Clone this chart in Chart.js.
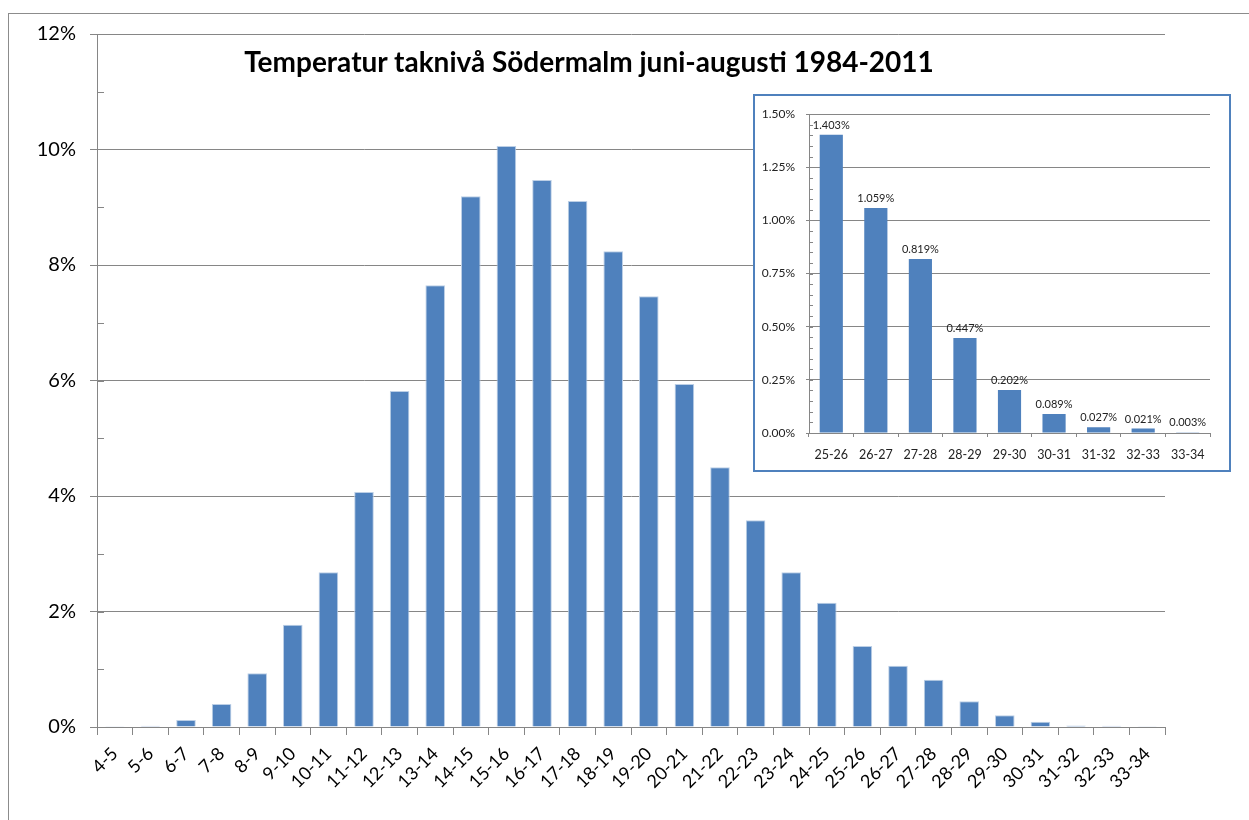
<!DOCTYPE html>
<html>
<head>
<meta charset="utf-8">
<script src="https://cdn.jsdelivr.net/npm/chart.js@4.4.1/dist/chart.umd.min.js"></script>
<style>
  body { margin: 0; background: #fff; width: 1249px; height: 820px; overflow: hidden; position: relative; font-family: Lato, "Open Sans", sans-serif; }
  #frame { position: absolute; left: 8px; top: 13px; width: 1400px; height: 1000px; border: 1px solid #8c8c8c; }
  #main { position: absolute; left: 0; top: 0; }
  #title { position: absolute; left: 0; width: 1178px; top: 44px; text-align: center; font: bold 28px Lato, sans-serif; color: #000; }
  #insetBox { position: absolute; left: 753px; top: 94px; width: 474px; height: 374px; border: 2px solid #4F81BD; background: #fff; }
  #inset { display: block; }
</style>
</head>
<body>
<div id="frame"></div>
<canvas id="main" width="1249" height="820"></canvas>
<div id="title">Temperatur taknivå Södermalm juni-augusti 1984-2011</div>
<div id="insetBox"><canvas id="inset" width="474" height="374"></canvas></div>

<script>
// data, percent of all hours
const categories = ['4-5', '5-6', '6-7', '7-8', '8-9', '9-10', '10-11', '11-12', '12-13', '13-14',
  '14-15', '15-16', '16-17', '17-18', '18-19', '19-20', '20-21', '21-22', '22-23', '23-24',
  '24-25', '25-26', '26-27', '27-28', '28-29', '29-30', '30-31', '31-32', '32-33', '33-34'];
const shares = [0.003, 0.02, 0.12, 0.40, 0.93, 1.77, 2.68, 4.07, 5.82, 7.65,
  9.19, 10.06, 9.47, 9.11, 8.24, 7.46, 5.94, 4.50, 3.58, 2.68,
  2.15, 1.403, 1.059, 0.819, 0.447, 0.202, 0.089, 0.027, 0.021, 0.003];
const mainYTicks = [0, 2, 4, 6, 8, 10, 12];

const insetCategories = ['25-26', '26-27', '27-28', '28-29', '29-30', '30-31', '31-32', '32-33', '33-34'];
const insetShares = [1.403, 1.059, 0.819, 0.447, 0.202, 0.089, 0.027, 0.021, 0.003];
const insetYTicks = [0, 0.25, 0.5, 0.75, 1.0, 1.25, 1.5];

const BLUE = '#4F81BD';
const GRID = '#868686';

// small inside tick marks on the y axis
const minorTicks = {
  id: 'minorTicks',
  afterDraw(chart, args, opts) {
    const y = chart.scales.y;
    const ctx = chart.ctx;
    const n = Math.round((y.max - y.min) / opts.step);
    ctx.save();
    ctx.strokeStyle = GRID;
    ctx.lineWidth = 1;
    for (let i = 0; i <= n; i++) {
      const py = Math.round(y.getPixelForValue(y.min + i * opts.step)) + 0.5;
      ctx.beginPath();
      ctx.moveTo(y.right, py);
      ctx.lineTo(y.right + opts.length, py);
      ctx.stroke();
    }
    ctx.restore();
  }
};

// value labels above the inset bars
const barLabels = {
  id: 'barLabels',
  afterDatasetsDraw(chart, args, opts) {
    if (!opts.show) return;
    const ctx = chart.ctx;
    const values = chart.data.datasets[0].data;
    ctx.save();
    ctx.font = opts.size + 'px Lato, sans-serif';
    ctx.fillStyle = '#222';
    ctx.textAlign = 'center';
    ctx.textBaseline = 'bottom';
    chart.getDatasetMeta(0).data.forEach((bar, i) => {
      ctx.fillText(values[i].toFixed(3) + '%', bar.x, bar.y - 4);
    });
    ctx.restore();
  }
};

Chart.defaults.font.family = 'Lato, "Open Sans", sans-serif';
Chart.defaults.color = '#000';

new Chart(document.getElementById('main'), {
  type: 'bar',
  data: {
    labels: categories,
    datasets: [{
      data: shares,
      backgroundColor: BLUE,
      borderColor: '#BCCFE6',
      borderWidth: 1,
      barPercentage: 0.55,
      categoryPercentage: 1
    }]
  },
  options: {
    responsive: false,
    animation: false,
    layout: { padding: { left: 0, top: 34, right: 84, bottom: 0 } },
    plugins: {
      legend: { display: false },
      tooltip: { enabled: false },
      minorTicks: { step: 1, length: 7 },
      barLabels: { show: false }
    },
    scales: {
      x: {
        grid: { drawOnChartArea: false, offset: true, tickLength: 8, color: GRID },
        border: { color: GRID },
        ticks: { font: { size: 18 }, maxRotation: 45, minRotation: 45, padding: 8, autoSkip: false },
        afterFit(s) { s.height = 93; }
      },
      y: {
        min: 0, max: 12,
        afterBuildTicks(s) { s.ticks = mainYTicks.map(v => ({ value: v })); },
        grid: { color: GRID, tickLength: 7 },
        border: { color: GRID },
        ticks: { font: { size: 20 }, padding: 14, callback: v => v + '%' },
        afterFit(s) { s.width = 97; }
      }
    }
  },
  plugins: [minorTicks, barLabels]
});

new Chart(document.getElementById('inset'), {
  type: 'bar',
  data: {
    labels: insetCategories,
    datasets: [{
      data: insetShares,
      backgroundColor: BLUE,
      borderWidth: 0,
      barPercentage: 0.52,
      categoryPercentage: 1
    }]
  },
  options: {
    responsive: false,
    animation: false,
    layout: { padding: { left: 0, top: 11, right: 19, bottom: 0 } },
    plugins: {
      legend: { display: false },
      tooltip: { enabled: false },
      minorTicks: { step: 0.05, length: 4 },
      barLabels: { show: true, size: 11 }
    },
    scales: {
      x: {
        grid: { drawOnChartArea: false, offset: true, tickLength: 4, color: GRID },
        border: { color: GRID },
        ticks: { font: { size: 12.5 }, color: '#222', maxRotation: 0, padding: 10, autoSkip: false },
        afterFit(s) { s.height = 37; }
      },
      y: {
        min: 0, max: 1.5,
        afterBuildTicks(s) { s.ticks = insetYTicks.map(v => ({ value: v })); },
        grid: { color: GRID, tickLength: 3 },
        border: { color: GRID },
        ticks: { font: { size: 12 }, color: '#222', padding: 11, callback: v => v.toFixed(2) + '%' },
        afterFit(s) { s.width = 54; }
      }
    }
  },
  plugins: [minorTicks, barLabels]
});
</script>
</body>
</html>
